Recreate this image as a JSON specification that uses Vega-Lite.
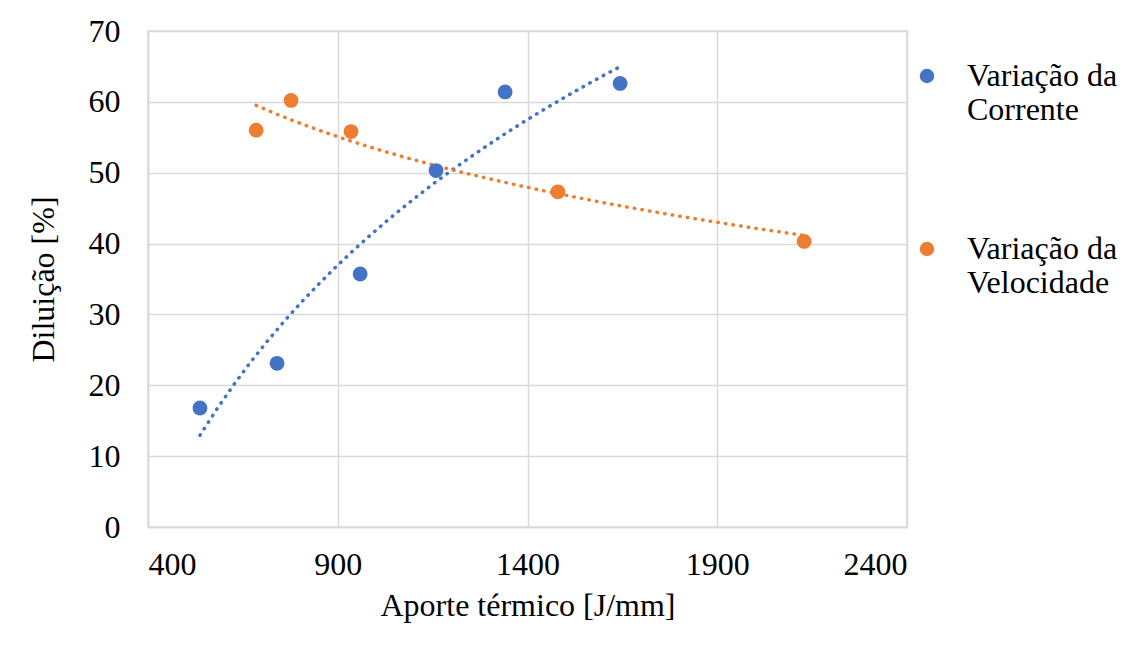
{
  "$schema": "https://vega.github.io/schema/vega-lite/v6.json",
  "autosize": {"type": "none"},
  "width": 759,
  "height": 496,
  "padding": {"left": 148, "top": 31, "right": 225, "bottom": 130},
  "background": "white",
  "config": {
    "font": "Liberation Serif",
    "view": {"stroke": "#d9d9d9", "strokeWidth": 1.5},
    "axis": {
      "labelFont": "Liberation Serif",
      "titleFont": "Liberation Serif",
      "labelFontSize": 32,
      "titleFontSize": 32,
      "labelColor": "#000000",
      "titleColor": "#000000",
      "titleFontWeight": "normal",
      "gridColor": "#d9d9d9",
      "gridWidth": 1.5,
      "domainColor": "#d9d9d9",
      "domainWidth": 1.5,
      "ticks": false
    },
    "legend": {
      "labelFont": "Liberation Serif",
      "labelFontSize": 32,
      "labelColor": "#000000",
      "padding": 0
    }
  },
  "data": {
    "values": [
      {"aporte": 537, "diluicao": 16.8, "serie": "Variação da Corrente"},
      {"aporte": 740, "diluicao": 23.1, "serie": "Variação da Corrente"},
      {"aporte": 959, "diluicao": 35.7, "serie": "Variação da Corrente"},
      {"aporte": 1159, "diluicao": 50.3, "serie": "Variação da Corrente"},
      {"aporte": 1341, "diluicao": 61.4, "serie": "Variação da Corrente"},
      {"aporte": 1644, "diluicao": 62.6, "serie": "Variação da Corrente"},
      {"aporte": 685, "diluicao": 56.0, "serie": "Variação da Velocidade"},
      {"aporte": 777, "diluicao": 60.2, "serie": "Variação da Velocidade"},
      {"aporte": 935, "diluicao": 55.8, "serie": "Variação da Velocidade"},
      {"aporte": 1480, "diluicao": 47.3, "serie": "Variação da Velocidade"},
      {"aporte": 2129, "diluicao": 40.3, "serie": "Variação da Velocidade"}
    ]
  },
  "encoding": {
    "x": {
      "field": "aporte",
      "type": "quantitative",
      "scale": {"domain": [400, 2400], "nice": false, "zero": false},
      "axis": {"values": [400, 900, 1400, 1900, 2400], "format": "d", "title": "Aporte térmico [J/mm]", "labelPadding": 22, "titlePadding": 10}
    },
    "y": {
      "field": "diluicao",
      "type": "quantitative",
      "scale": {"domain": [0, 70], "nice": false},
      "axis": {"values": [0, 10, 20, 30, 40, 50, 60, 70], "title": "Diluição [%]", "labelPadding": 28, "titlePadding": 28}
    }
  },
  "layer": [
    {
      "transform": [
        {"filter": "datum.serie == 'Variação da Corrente'"},
        {"regression": "diluicao", "on": "aporte", "method": "log"}
      ],
      "mark": {"type": "line", "color": "#4472C4", "strokeWidth": 3.5, "strokeDash": [0.5, 7.2], "strokeCap": "round"},
      "encoding": {}
    },
    {
      "transform": [
        {"filter": "datum.serie == 'Variação da Velocidade'"},
        {"regression": "diluicao", "on": "aporte", "method": "log"}
      ],
      "mark": {"type": "line", "color": "#ED7D31", "strokeWidth": 3.5, "strokeDash": [0.5, 7.2], "strokeCap": "round"},
      "encoding": {}
    },
    {
      "mark": {"type": "point", "filled": true, "opacity": 1, "size": 220},
      "encoding": {
        "color": {
          "field": "serie",
          "type": "nominal",
          "scale": {"domain": ["Variação da Corrente", "Variação da Velocidade"], "range": ["#4472C4", "#ED7D31"]},
          "legend": {
            "title": null,
            "orient": "none",
            "legendX": 763,
            "legendY": 29,
            "symbolSize": 210,
            "symbolType": "circle",
            "labelFont": "Liberation Serif",
            "labelFontSize": 32,
            "labelColor": "#000000",
            "labelLimit": 300,
            "labelOffset": 24,
            "rowPadding": 107,
            "labelBaseline": "middle",
            "labelExpr": "datum.label == 'Variação da Corrente' ? ['Variação da', 'Corrente'] : ['Variação da', 'Velocidade']",
            "encoding": {"labels": {"font": {"value": "Liberation Serif"}}}
          }
        }
      }
    }
  ]
}
